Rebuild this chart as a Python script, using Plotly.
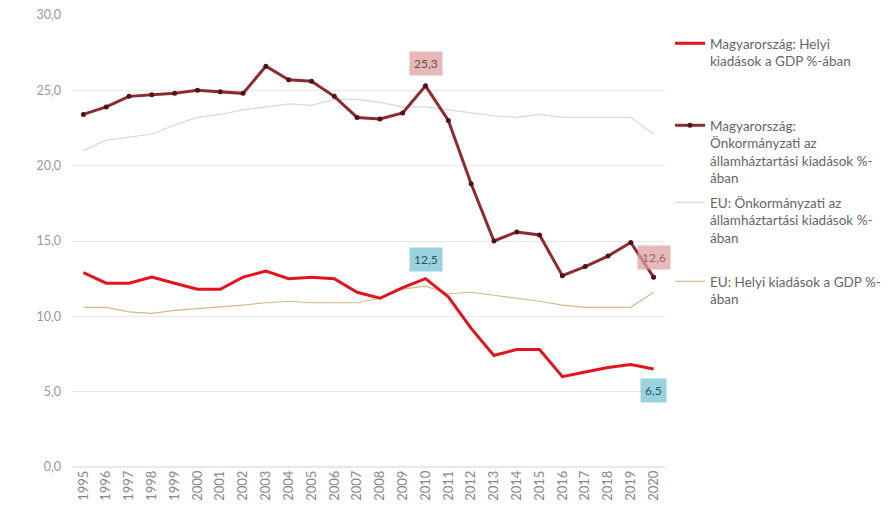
import plotly.graph_objects as go

years = [str(y) for y in range(1995, 2021)]

hu_gdp = [12.9, 12.2, 12.2, 12.6, 12.2, 11.8, 11.8, 12.6, 13.0, 12.5, 12.6, 12.5, 11.6, 11.2,
          11.9, 12.5, 11.3, 9.2, 7.4, 7.8, 7.8, 6.0, 6.3, 6.6, 6.8, 6.5]
hu_gov = [23.4, 23.9, 24.6, 24.7, 24.8, 25.0, 24.9, 24.8, 26.6, 25.7, 25.6, 24.6, 23.2, 23.1,
          23.5, 25.3, 23.0, 18.8, 15.0, 15.6, 15.4, 12.7, 13.3, 14.0, 14.9, 12.6]
eu_gov = [21.0, 21.7, 21.9, 22.1, 22.7, 23.2, 23.4, 23.7, 23.9, 24.1, 24.0, 24.4, 24.4, 24.2,
          23.9, 23.9, 23.7, 23.5, 23.3, 23.2, 23.4, 23.2, 23.2, 23.2, 23.2, 22.1]
eu_gdp = [10.6, 10.6, 10.3, 10.2, 10.4, 10.5, 10.6, 10.75, 10.9, 11.0, 10.9, 10.9, 10.9, 11.2,
          11.8, 12.0, 11.5, 11.6, 11.4, 11.2, 11.0, 10.75, 10.6, 10.6, 10.6, 11.6]

names = [
    "Magyarország: Helyi<br>kiadások a GDP %-ában",
    "Magyarország:<br>Önkormányzati az<br>államháztartási kiadások %-<br>ában",
    "EU: Önkormányzati az<br>államháztartási kiadások %-<br>ában",
    "EU: Helyi kiadások a GDP %-<br>ában",
]

FONT = "Lato"
fig = go.Figure()
fig.add_trace(go.Scatter(x=years, y=eu_gov, mode="lines", name=names[2], legend="legend3",
                         line=dict(color="#d9d9d9", width=1.2)))
fig.add_trace(go.Scatter(x=years, y=eu_gdp, mode="lines", name=names[3], legend="legend4",
                         line=dict(color="#d6b98a", width=1.2)))
fig.add_trace(go.Scatter(x=years, y=hu_gdp, mode="lines", name=names[0], legend="legend",
                         line=dict(color="#e3141c", width=3)))
fig.add_trace(go.Scatter(x=years, y=hu_gov, mode="lines+markers", name=names[1], legend="legend2",
                         line=dict(color="#8e2b2f", width=3),
                         marker=dict(color="#4a1518", size=5)))

def ann(i, y, text, bg, fc, shift):
    fig.add_annotation(x=i, y=y, xref="x", yref="y", text=text, showarrow=False, yshift=shift,
                       bgcolor=bg, font=dict(family=FONT, size=12, color=fc),
                       borderpad=4)

i2010 = years.index("2010")
i2020 = years.index("2020")
ann(i2010, hu_gov[i2010], "25,3", "rgba(222,160,160,0.75)", "#6e4a4a", 22)
ann(i2010, hu_gdp[i2010], "12,5", "rgba(120,195,210,0.75)", "#2d5566", 19)
ann(i2020, hu_gov[i2020], "12,6", "rgba(222,160,160,0.75)", "#8a6a6a", 20)
ann(i2020, hu_gdp[i2020], "6,5", "rgba(120,195,210,0.75)", "#2d5566", -21)

def leg(ytop):
    return dict(xref="container", yref="container", x=670 / 892, y=1 - ytop / 509,
                xanchor="left", yanchor="top", valign="top", bgcolor="rgba(0,0,0,0)",
                font=dict(family=FONT, size=13.5, color="#666666"))

fig.update_layout(
    width=892, height=509,
    margin=dict(l=72, r=227, t=15, b=42),
    plot_bgcolor="white", paper_bgcolor="white",
    separators=", ",
    showlegend=True,
    legend=leg(28), legend2=leg(110), legend3=leg(187), legend4=leg(266),
    xaxis=dict(type="category", range=[-0.5, 25.5], tickangle=-90, showgrid=False,
               showline=False, ticks="", automargin=False,
               tickfont=dict(family=FONT, size=13, color="#888888")),
    yaxis=dict(range=[0, 30], dtick=5, tickformat=".1f", showgrid=True, gridcolor="#e8e8e8",
               gridwidth=1, zeroline=True, zerolinecolor="#e8e8e8", showline=False, ticks="",
               ticklabelstandoff=10, automargin=False,
               tickfont=dict(family=FONT, size=12.5, color="#999999")),
)

fig.write_html("out.html")
